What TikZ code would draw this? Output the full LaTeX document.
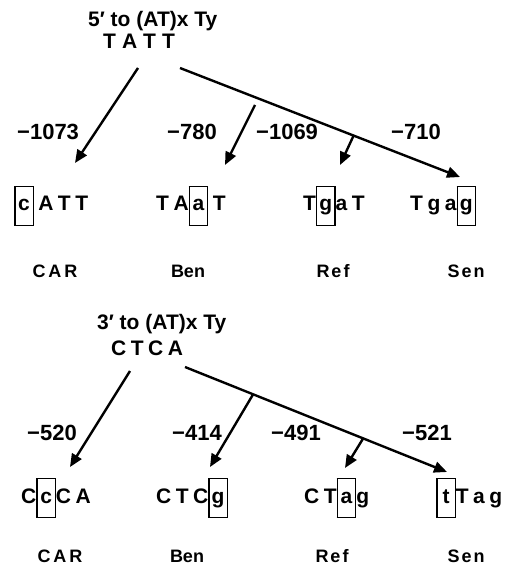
\documentclass[tikz,border=0pt]{standalone}
\usepackage{fontspec}
\setmainfont{Liberation Sans}
\usetikzlibrary{arrows.meta,calc}

\newcommand\hdrfont{\fontsize{21}{23}\selectfont\bfseries}
\newcommand\seqfont{\fontsize{21}{23}\selectfont\bfseries}
\newcommand\numfont{\fontsize{22}{24}\selectfont\bfseries}
\newcommand\namefont{\fontsize{18}{20}\selectfont\bfseries}
\newcommand\ls{\hspace{4.5pt}}
\newcommand\bx[1]{{\setlength\fboxsep{1pt}\setlength\fboxrule{1.3pt}%
  \fbox{\makebox[15pt]{\rule[-13pt]{0pt}{36pt}#1}}}}

\begin{document}
\begin{tikzpicture}[x=1pt,y=-1pt,
    hdr/.style={anchor=base west,inner sep=0pt,font=\hdrfont},
    seq/.style={anchor=base west,inner sep=0pt,font=\seqfont},
    num/.style={anchor=base west,inner sep=0pt,font=\numfont},
    strain/.style={anchor=base,inner sep=0pt,font=\namefont},
    arr/.style={-{Triangle[length=13pt,width=11pt]},line width=2.4pt}]
  \useasboundingbox (0,0) rectangle (516,569);

  % 5' side
  \node[hdr] (hdrA) at (88,27) {5′ to (AT)x Ty};
  \node[seq] (srcA) at (103,49) {T\hspace{6pt}A\hspace{6pt}T\hspace{6pt}T};
  \coordinate (a0) at (138,68);
  \coordinate (a1) at (75,163);
  \coordinate (b0) at (255,105);
  \coordinate (b1) at (225,165);
  \coordinate (l0) at (180,68);
  \coordinate (l1) at (460,177);
  \coordinate (c0) at ($(l0)!0.62!(l1)$);
  \coordinate (c1) at (340,165);
  \draw[arr] (a0) -- (a1);
  \draw[arr] (b0) -- (b1);
  \draw[arr] (l0) -- (l1);
  \draw[arr] (c0) -- (c1);
  \node[num] (nA1) at (17,140) {−1073};
  \node[num] (nA2) at (167,140) {−780};
  \node[num] (nA3) at (256,140) {−1069};
  \node[num] (nA4) at (391,140) {−710};

  \node[seq] (carA) at (14,211) {\bx{c}\ls A\ls T\ls T};
  \node[seq] (benA) at (156,211) {T\ls A\bx{a}\ls T};
  \node[seq] (refA) at (303,211) {T\bx{g}a\ls T};
  \node[seq] (senA) at (410,211) {T\ls g\ls a\bx{g}};
  \node[strain] (carNA) at (55,277) {C\hspace{3pt}A\hspace{3pt}R};
  \node[strain] (benNA) at (188,277) {Ben};
  \node[strain] (refNA) at (333,277) {R\hspace{2pt}e\hspace{2pt}f};
  \node[strain] (senNA) at (466,277) {S\hspace{2pt}e\hspace{2pt}n};

  % 3' side
  \node[hdr] (hdrB) at (97,329) {3′ to (AT)x Ty};
  \node[seq] (srcB) at (111,355) {C\ls T\ls C\ls A};
  \coordinate (d0) at (130,371);
  \coordinate (d1) at (70,467);
  \coordinate (m0) at (185,367);
  \coordinate (m1) at (447,472);
  \coordinate (e0) at ($(m0)!0.26!(m1)$);
  \coordinate (e1) at (210,467);
  \coordinate (f0) at ($(m0)!0.68!(m1)$);
  \coordinate (f1) at (345,468);
  \draw[arr] (d0) -- (d1);
  \draw[arr] (m0) -- (m1);
  \draw[arr] (e0) -- (e1);
  \draw[arr] (f0) -- (f1);
  \node[num] (nB1) at (27,440) {−520};
  \node[num] (nB2) at (172,440) {−414};
  \node[num] (nB3) at (271,440) {−491};
  \node[num] (nB4) at (402,440) {−521};

  \node[seq] (carB) at (21,503) {C\bx{c}C\ls A};
  \node[seq] (benB) at (156,503) {C\ls T\ls C\bx{g}};
  \node[seq] (refB) at (304,503) {C\ls T\bx{a}g};
  \node[seq] (senB) at (436,503) {\bx{t}T\ls a\ls g};
  \node[strain] (carNB) at (60,562) {C\hspace{3pt}A\hspace{3pt}R};
  \node[strain] (benNB) at (187,562) {Ben};
  \node[strain] (refNB) at (332,562) {R\hspace{2pt}e\hspace{2pt}f};
  \node[strain] (senNB) at (466,562) {S\hspace{2pt}e\hspace{2pt}n};
\end{tikzpicture}
\end{document}
